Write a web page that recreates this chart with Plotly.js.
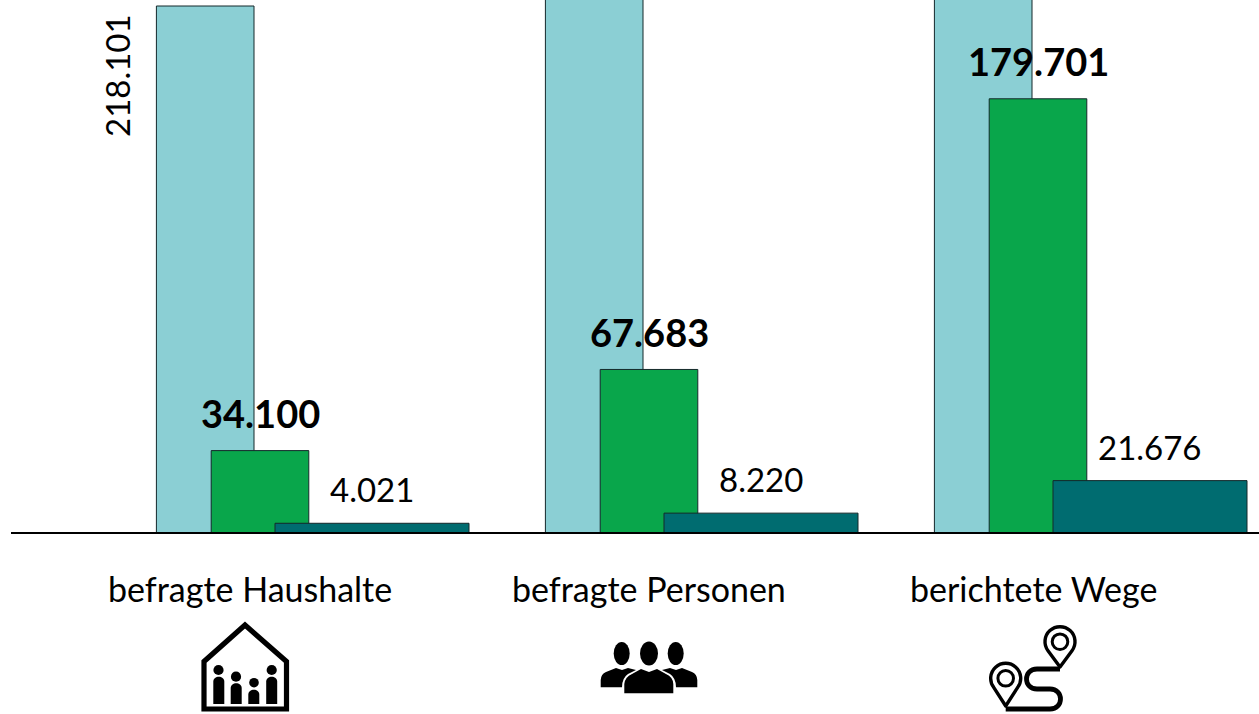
<!DOCTYPE html>
<html lang="de"><head><meta charset="utf-8">
<script src="https://cdn.plot.ly/plotly-3.0.1.min.js"></script>
<style>html,body{margin:0;padding:0;background:#fff;overflow:hidden}#chart{width:1259px;height:714px}</style>
</head><body><div id="chart"></div>
<script>
const categories = ["befragte Haushalte", "befragte Personen", "berichtete Wege"];
// The light bars of groups 2 and 3 run off the top of the picture; their values are not legible.
const lightValues = [218101, 300000, 400000];
const greenValues = [34100, 67683, 179701];
const darkValues = [4021, 8220, 21676];
const categoryLabelX = [250, 649, 1033];

const W = 1259, H = 714, STEP = 389, C0 = 250, BASE = 533;
const PX = (533 - 6) / 218101;
const FONT = 'Lato, "Open Sans", sans-serif';
const fmt = v => String(v).replace(/\B(?=(\d{3})+$)/g, '.');
const idx = categories.map((_, i) => i);

function bars(name, y, color, leftPx, widthPx) {
  return {type: 'bar', name, x: idx, y, width: widthPx / STEP, offset: (leftPx - C0) / STEP,
    marker: {color, line: {color: '#14282a', width: 1}}, hoverinfo: 'skip', cliponaxis: true};
}
const data = [
  bars('gesamt', lightValues, '#8bcfd4', 156.4, 97.6),
  bars('befragt', greenValues, '#09a64b', 211.2, 97.6),
  bars('anteil', darkValues, '#006c70', 275, 194)
];

const annotations = [];
idx.forEach(i => {
  annotations.push({xref: 'x', yref: 'y', x: i + (260 - C0) / STEP, y: greenValues[i], text: '<b>' + fmt(greenValues[i]) + '</b>',
    showarrow: false, yshift: 37.5, xanchor: 'center', yanchor: 'middle', font: {family: FONT, size: 38, color: '#000'}});
  annotations.push({xref: 'x', yref: 'y', x: i + (371.5 - C0) / STEP, y: darkValues[i], text: fmt(darkValues[i]),
    showarrow: false, yshift: 34, xanchor: 'center', yanchor: 'middle', font: {family: FONT, size: 33, color: '#000'}});
  annotations.push({xref: 'paper', yref: 'paper', x: categoryLabelX[i] / W, y: 1 - 588 / H, text: categories[i],
    showarrow: false, xanchor: 'center', yanchor: 'middle', font: {family: FONT, size: 34, color: '#000'}});
});
annotations.push({xref: 'x', yref: 'y', x: (156 - C0) / STEP, y: lightValues[0], text: fmt(lightValues[0]), textangle: -90,
  showarrow: false, xshift: -39, yshift: -70, xanchor: 'center', yanchor: 'middle', font: {family: FONT, size: 33, color: '#000'}});

const svg = (x, y, w, h, body) => 'data:image/svg+xml;utf8,' + encodeURIComponent(
  `<svg xmlns="http://www.w3.org/2000/svg" width="${w}" height="${h}" viewBox="${x} ${y} ${w} ${h}">${body}</svg>`);
const person = (hx, hy, r, x0, x1, top) =>
  `<circle cx="${hx}" cy="${hy}" r="${r}"/><path d="M${x0} 704V${top + 5}C${x0} ${top - 1.5} ${x1} ${top - 1.5} ${x1} ${top + 5}V704Z"/>`;
const houseIcon = svg(190, 610, 110, 104,
  `<path d="M204 709V661.5L245 625L286.5 661.5V709Z" fill="none" stroke="#000" stroke-width="5.2"/>` +
  person(218.5, 670, 5.1, 213.3, 224.3, 676.5) + person(236, 676.7, 5.1, 230.7, 241.7, 683) +
  person(254, 682.7, 4.8, 248.3, 259.3, 689.5) + person(271.7, 670, 5.1, 266.2, 277.2, 676.5));
const peopleIcon = svg(590, 630, 120, 70,
  `<ellipse cx="621.7" cy="653.5" rx="8" ry="11.5"/><ellipse cx="675.7" cy="653.5" rx="8" ry="11.5"/><ellipse cx="649" cy="653.5" rx="9" ry="12"/>` +
  `<path d="M600.7 687.3V680Q601 674 606 672L616 668L622 670L628 668L636 670L628 674Q622 678 622 687.3Z"/>` +
  `<path d="M697.3 687.3V680Q697 674 692 672L682 668L676 670L670 668L662 670L670 674Q676 678 676 687.3Z"/>` +
  `<path d="M624.3 693.3V684Q625 677 632 674L641 669L649 672L657 669L666 674Q673 677 673.3 684V693.3Z" stroke="#fff" stroke-width="1.5" paint-order="stroke"/>`);
const pin = (cx, cy, tipY) =>
  `<path d="M${cx} ${tipY}L${cx - 12} ${cy + 9}A15 15 0 1 1 ${cx + 12} ${cy + 9}Z" fill="none" stroke="#000" stroke-width="3.4" stroke-linejoin="round"/>` +
  `<circle cx="${cx}" cy="${cy}" r="7.8" fill="none" stroke="#000" stroke-width="3"/>`;
const routeIcon = svg(980, 620, 110, 94,
  pin(1060, 641.7, 667) + pin(1005.7, 678.3, 706) +
  `<path d="M1060 669H1037C1023 669 1023 689 1037 689H1050C1064 689 1064 709 1050 709H1005.7" fill="none" stroke="#000" stroke-width="4.8"/>`);
const place = (source, x, y, w, h) => ({source, xref: 'paper', yref: 'paper', x: x / W, y: 1 - y / H,
  sizex: w / W, sizey: h / H, xanchor: 'left', yanchor: 'top', sizing: 'stretch', layer: 'above'});

const layout = {
  width: W, height: H, margin: {l: 0, r: 0, t: 0, b: 0}, autosize: false, showlegend: false,
  paper_bgcolor: '#fff', plot_bgcolor: '#fff', barmode: 'overlay',
  font: {family: FONT},
  xaxis: {type: 'linear', range: [-C0 / STEP, (W - C0) / STEP], visible: false, fixedrange: true},
  yaxis: {range: [-(H - BASE) / PX, BASE / PX], visible: false, fixedrange: true},
  shapes: [{type: 'line', xref: 'paper', yref: 'y', x0: 11 / W, x1: 1, y0: 0, y1: 0, line: {color: '#000', width: 2}, layer: 'above'}],
  annotations,
  images: [place(houseIcon, 190, 610, 110, 104), place(peopleIcon, 590, 630, 120, 70), place(routeIcon, 980, 620, 110, 94)]
};
Plotly.newPlot('chart', data, layout, {displayModeBar: false, staticPlot: true});
</script></body></html>
